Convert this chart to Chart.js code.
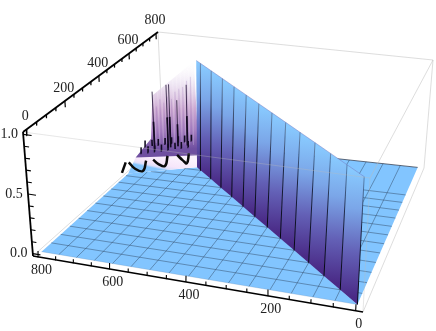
<!DOCTYPE html>
<html><head><meta charset="utf-8">
<style>html,body{margin:0;padding:0;background:#fff}canvas{display:block;filter:blur(.35px)}</style>
<script src="https://cdn.jsdelivr.net/npm/chart.js@4"></script></head>
<body><canvas id="c" width="436" height="331"></canvas>
<script>
// ---- values ----
const aTicks=[0,50,100,150,200,250,300,350,400,450,500,550,600,650,700,750,800];
const bTicks=aTicks;
const zTicks=[0,0.1,0.2,0.3,0.4,0.5,0.6,0.7,0.8,0.9,1];
const aLabels=[0,200,400,600,800];
const bLabels=[0,200,400,600,800];
const zLabels=[0,0.5,1];
const meshLines=[50,100,150,200,250,300,350,400,450,500,550,600,650,700,750];
const wallStations=[0,50,100,150,200,250,300,350,400,450,500,550,600,620];
// floor mesh ends where the noisy ridge begins [line position, far limit]
const ridgeCutA=[[650,602],[700,574],[750,545]];
const ridgeCutB=[[550,741],[600,655]];
// black arcs lying on the ridge foot [A,B]
const arc0=[[821,516],[845,593]];
const arc1=[[836,596],[796,556],[766,547],[790,624]];
const arc2=[[772,637],[744,611],[717,601],[741,678]];
const arc3=[[715,693],[683,659],[661,640],[685,717]];
// small spikes in two rows [A,B]
const row1=[[828,673],[810,686],[793,698],[775,711],[758,724],[740,737],[723,749],[705,762]];
const row2=[[839,728],[821,741],[804,753],[786,766],[769,779],[751,792],[734,804],[716,817]];
// tall black spikes [A,B,height]
const spikes=[[793,698,0.57],[758,724,0.62],[752,730,0.62],[733,745,0.46],[707,760,0.6]];
// fine strands of the noisy surface [A,B,height]
const strands=[[806,725,.42],[800,726,.5],[794,727,.4],[788,728,.55],[782,729,.47],[776,730,.58],[770,730,.44],[764,731,.62],[758,732,.5],[752,733,.6],[746,734,.48],[740,735,.68],[734,735,.55],[728,736,.7],[722,737,.58],[716,738,.74],[710,739,.6],[704,740,.76],[698,741,.66],[692,742,.8],[686,743,.7],[680,744,.82]];

// ---- projection of the box corners onto the canvas ----
function quad(p0,p1,p2,p3){
  const dx1=p1[0]-p2[0],dx2=p3[0]-p2[0],sx=p0[0]-p1[0]+p2[0]-p3[0];
  const dy1=p1[1]-p2[1],dy2=p3[1]-p2[1],sy=p0[1]-p1[1]+p2[1]-p3[1];
  const det=dx1*dy2-dx2*dy1,g=(sx*dy2-dx2*sy)/det,h=(dx1*sy-sx*dy1)/det;
  const a=p1[0]-p0[0]+g*p1[0],b=p3[0]-p0[0]+h*p3[0],d=p1[1]-p0[1]+g*p1[1],e=p3[1]-p0[1]+h*p3[1];
  return (u,v)=>{const w=1+g*u+h*v;return {x:(p0[0]+a*u+b*v)/w,y:(p0[1]+d*u+e*v)/w};};
}
const base=quad([363,312],[33,256],[163,140],[424,168]);
const roof=quad([370,178],[23,132],[158,32],[433,60]);
const LO=-16,HI=816,ZLO=-0.02,ZHI=1.02;
function P(A,B,z){
  const u=(A-LO)/(HI-LO),v=(B-LO)/(HI-LO),s=(z-ZLO)/(ZHI-ZLO);
  const p=base(u,v),q=roof(u,v);
  return {x:p.x+(q.x-p.x)*s,y:p.y+(q.y-p.y)*s};
}
const datasets=[];
function line(pts,color,width,extra){
  datasets.push(Object.assign({data:pts.map(p=>P(p[0],p[1],p[2]||0)),borderColor:color,borderWidth:width,pointRadius:0,fill:false,tension:0},extra||{}));
}
function poly(pts,bg){
  datasets.push({data:pts.map(p=>P(p[0],p[1],p[2]||0)),backgroundColor:bg,borderColor:'transparent',borderWidth:0,pointRadius:0,fill:'shape',tension:0});
}
function grad(from,to,stops){
  return c=>{
    const sx=c.chart.scales.x,sy=c.chart.scales.y;
    if(!sx||!sy)return stops[stops.length-1][1];
    const a=P(...from),b=P(...to);
    const v=[sx.getPixelForValue(a.x),sy.getPixelForValue(a.y),sx.getPixelForValue(b.x),sy.getPixelForValue(b.y)];
    if(!v.every(Number.isFinite))return stops[stops.length-1][1];
    const g=c.chart.ctx.createLinearGradient(v[0],v[1],v[2],v[3]);
    stops.forEach(s=>g.addColorStop(s[0],s[1]));
    return g;
  };
}
const GREY='rgba(185,185,185,.7)',FLOOR='#82C5FF',MESH='rgba(50,75,105,.7)';
// back box edges
line([[HI,HI,ZHI],[LO,HI,ZHI]],GREY,.7);
line([[HI,HI,ZHI],[HI,HI,ZLO]],GREY,.7);
line([[LO,HI,ZHI],[LO,HI,ZLO]],GREY,.7);
line([[HI,LO,ZLO],[HI,HI,ZLO]],GREY,.7);
line([[LO,LO,ZLO],[LO,HI,ZLO]],GREY,.7);
// floor
poly([[0,0],[0,800],[620,800],[620,620]],FLOOR);
poly([[0,0],[800,0],[800,516],[616,620]],FLOOR);
// floor mesh
const cutA=new Map(ridgeCutA),cutB=new Map(ridgeCutB);
meshLines.forEach(m=>{
  if(m<=620){line([[m,m],[m,800]],MESH,.7);}
  line([[m,0],[m,cutA.get(m)||Math.min(m,620)]],MESH,.7);
  if(m<=516)line([[m,m],[800,m]],MESH,.7);else if(cutB.has(m))line([[m,m],[cutB.get(m),m]],MESH,.7);
  if(m<620)line([[0,m],[m,m]],MESH,.7);
});
line([[0,800],[620,800]],'rgba(40,50,70,.8)',.9);
line([[800,0],[0,0]],'rgba(90,120,160,.4)',.5);
// ridge foot
poly([[800,516],[616,622],[649,710],[694,715],[832,638]],grad([708,570,0],[745,680,0],[[0,'#86C5FD'],[.15,'#E2E0FB'],[.35,'#F6E6FA'],[1,'#FBF2FD']]));
// noisy surface
poly([[832,638,0],[649,710,0],[675,745,.85],[806,728,.5],[812,715,.1]],grad([760,725,.85],[760,725,0],[[0,'rgba(255,255,255,0)'],[.25,'rgba(236,226,242,.75)'],[.55,'#CDA9D2'],[.8,'#A67FC0'],[1,'#6F4FA0']]));
strands.forEach((s,i)=>line([[s[0],s[1],0.05],[s[0],s[1],s[2]]],i%2?'rgba(255,255,255,.3)':'rgba(125,85,165,.3)',.7));
[row2,row1].forEach(r=>r.forEach(p=>line([[p[0],p[1],0],[p[0],p[1],.06]],'rgba(10,5,25,.95)',1.6)));
spikes.forEach(s=>{line([[s[0],s[1],.02],[s[0],s[1],s[2]]],'rgba(30,15,50,.8)',1);line([[s[0],s[1],.02],[s[0],s[1],s[2]*.5]],'#120a20',1.7);});
[arc0,arc1,arc2,arc3].forEach(a=>line(a,'#0a0a0a',2.5,{tension:.45}));
// wall
for(let i=0;i<wallStations.length-1;i++){
  const a=wallStations[i],b=wallStations[i+1],m=(a+b)/2;
  poly([[a,a,0],[b,b,0],[b,b,1],[a,a,1]],grad([m,m,1],[m,m,0],[[0,'#88C9FE'],[.3,'#7BA6E8'],[.65,'#6360B6'],[1,'#4A2A86']]));
}
const wallLine=[[0,'rgba(60,90,130,.6)'],[.4,'rgba(20,25,50,.9)'],[1,'#050510']];
wallStations.slice(0,-1).forEach(m=>line([[m,m,0],[m,m,1]],grad([m,m,1],[m,m,0],wallLine),1));
line([[0,0,1],[620,620,1]],'rgba(110,100,175,.55)',.7);
// front box edges
line([[HI,LO,ZHI],[LO,LO,ZHI]],'rgba(185,185,185,.5)',.7);
line([[LO,HI,ZHI],[LO,LO,ZHI]],GREY,.7);
line([[LO,LO,ZHI],[LO,LO,ZLO]],'rgba(185,185,185,.5)',.7);
// axes
const AX='#000';
line([[HI,LO,ZLO],[LO,LO,ZLO]],AX,1.6);
line([[HI,LO,ZHI],[HI,HI,ZHI]],AX,1.8);
line([[HI,LO,ZLO],[HI,LO,ZHI]],AX,1.8);
aTicks.forEach(t=>line([[t,LO,ZLO],[t,LO,ZLO+(aLabels.includes(t)?.05:.03)]],AX,1.1));
bTicks.forEach(t=>line([[HI,t,ZHI],[HI,t,ZHI-(bLabels.includes(t)?.055:.03)]],AX,1.2));
zTicks.forEach(t=>line([[HI,LO,t],[HI-(zLabels.includes(t)?22:13),LO,t]],AX,1.1));

const labelPlugin={id:'axisText',afterDraw(chart){
  const c=chart.ctx,sx=chart.scales.x,sy=chart.scales.y;
  c.save();c.font='14px "Liberation Serif"';c.fillStyle='#222';c.textAlign='center';c.textBaseline='middle';
  const put=(t,p,dx,dy)=>c.fillText(t,sx.getPixelForValue(p.x)+dx,sy.getPixelForValue(p.y)+dy);
  aLabels.forEach(t=>put(String(t),P(t,LO,ZLO),3,13.5));
  bLabels.forEach(t=>put(String(t),P(HI,t,ZHI),-1,-13));
  zLabels.forEach(t=>put(t.toFixed(1),P(HI,LO,t),-14,0));
  c.restore();
}};
new Chart(document.getElementById('c'),{
  type:'line',
  data:{datasets:datasets.reverse()},
  plugins:[labelPlugin],
  options:{responsive:false,animation:false,events:[],
    layout:{padding:0},
    plugins:{legend:{display:false},tooltip:{enabled:false},title:{display:false}},
    scales:{x:{type:'linear',display:false,min:0,max:436},y:{type:'linear',display:false,min:0,max:331,reverse:true}}
  }
});
</script></body></html>
